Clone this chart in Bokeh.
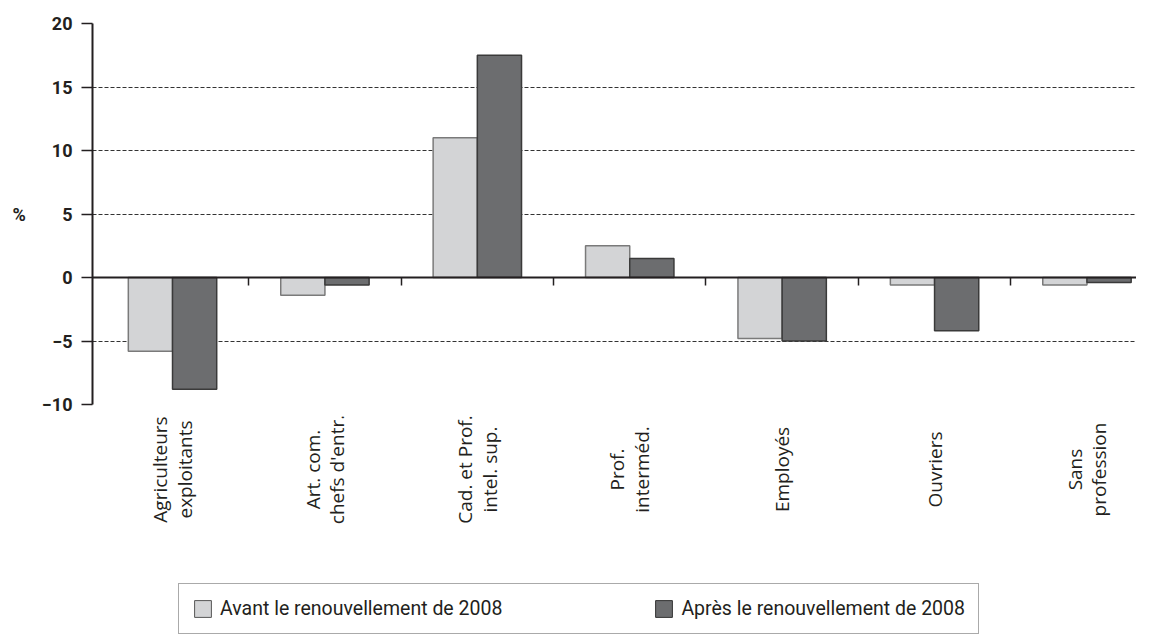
import math
from bokeh.plotting import figure
from bokeh.models import Range1d, FixedTicker, Legend, LegendItem, ColumnDataSource
from bokeh.layouts import column
from bokeh.core.properties import value
from bokeh.embed import file_html
from bokeh.resources import INLINE

categories = ["Agriculteurs\nexploitants", "Art. com.\nchefs d'entr.", "Cad. et Prof.\nintel. sup.",
              "Prof.\ninterméd.", "Employés", "Ouvriers", "Sans\nprofession"]
avant = [-5.8, -1.4, 11.0, 2.5, -4.8, -0.6, -0.6]
apres = [-8.8, -0.6, 17.5, 1.5, -5.0, -4.2, -0.4]
y_ticks = [-10, -5, 0, 5, 10, 15, 20]
series_names = ["Avant le renouvellement de 2008", "Après le renouvellement de 2008"]

LIGHT = "#d3d4d6"
DARK = "#6c6d6f"
INK = "#231f20"

centers = [i + 0.5 for i in range(len(categories))]
bw = 0.29
src = ColumnDataSource(dict(
    x_av=[c - bw / 2 for c in centers],
    x_ap=[c + bw / 2 for c in centers],
    avant=avant, apres=apres,
))

W = 1136
H1 = 416
LEFT = 92
p = figure(width=W, height=H1, output_backend="svg", toolbar_location=None,
           x_range=Range1d(-0.025, 6.825), y_range=Range1d(-10, 20),
           min_border_left=LEFT, min_border_right=0, min_border_top=23, min_border_bottom=12)
p.outline_line_color = None
p.background_fill_color = "white"

p.vbar(x="x_av", top="avant", bottom=0, width=bw, source=src,
       fill_color=LIGHT, line_color="#7a7a7a", line_width=1.5)
p.vbar(x="x_ap", top="apres", bottom=0, width=bw, source=src,
       fill_color=DARK, line_color="#3a3a3a", line_width=1.5)

# grid
p.xgrid.visible = False
p.ygrid.ticker = FixedTicker(ticks=[t for t in y_ticks if t != 0])
p.ygrid.grid_line_color = "#333333"
p.ygrid.grid_line_dash = "4 2"
p.ygrid.grid_line_width = 1

# y axis
p.yaxis.ticker = FixedTicker(ticks=y_ticks)
p.yaxis.minor_tick_line_color = None
p.yaxis.major_tick_out = 11
p.yaxis.major_tick_in = 0
p.yaxis.axis_line_width = 2
p.yaxis.axis_line_color = INK
p.yaxis.major_tick_line_color = INK
p.yaxis.major_tick_line_width = 1.5
p.yaxis.major_label_text_font = "Roboto"
p.yaxis.major_label_text_font_style = "bold"
p.yaxis.major_label_text_font_size = "18px"
p.yaxis.major_label_text_color = INK
p.yaxis.major_label_standoff = 9
p.yaxis.axis_label = "%"
p.yaxis.axis_label_orientation = "horizontal"
p.yaxis.axis_label_text_font = "Roboto"
p.yaxis.axis_label_text_font_style = "bold"
p.yaxis.axis_label_text_font_size = "18px"
p.yaxis.axis_label_text_color = INK
p.yaxis.axis_label_standoff = 13

# x axis at zero, ticks between categories
x_ticks = list(range(1, len(categories)))
p.xaxis.fixed_location = 0
p.xaxis.ticker = FixedTicker(ticks=x_ticks)
p.xaxis.minor_tick_line_color = None
p.xaxis.major_tick_out = 8
p.xaxis.major_tick_in = 0
p.xaxis.major_tick_line_width = 1.5
p.xaxis.major_tick_line_color = INK
p.xaxis.axis_line_width = 2
p.xaxis.axis_line_color = INK
p.xaxis.major_label_overrides = {t: "" for t in x_ticks}
p.xaxis.major_label_standoff = 0

# bottom figure: category labels + legend
H2 = 219
p2 = figure(width=W, height=H2, output_backend="svg", toolbar_location=None,
            x_range=p.x_range, y_range=Range1d(0, H2),
            min_border_left=LEFT, min_border_right=0, min_border_top=0, min_border_bottom=0)
p2.axis.visible = False
p2.grid.visible = False
p2.outline_line_color = None

lab_src = ColumnDataSource(dict(x=centers, y=[H2 - 53] * len(centers), t=categories))
p2.text(x="x", y="y", text="t", source=lab_src, angle=math.pi / 2,
        text_align="center", text_baseline="middle",
        text_font=value("Open Sans"), text_font_size="19px", text_color=INK,
        text_line_height=0.95)

nan = float("nan")
r_av = p2.vbar(x=[nan], top=[nan], width=0.1, fill_color=LIGHT, line_color="#555555", line_width=1)
r_ap = p2.vbar(x=[nan], top=[nan], width=0.1, fill_color=DARK, line_color="#333333", line_width=1)

legend = Legend(items=[LegendItem(label=series_names[0], renderers=[r_av]),
                       LegendItem(label=series_names[1], renderers=[r_ap])],
                orientation="horizontal", location=(86, 1),
                glyph_width=21, glyph_height=21, label_standoff=7,
                spacing=151, padding=13, margin=0,
                label_text_font="Roboto", label_text_font_size="19.5px", label_text_color=INK,
                border_line_color="#555555", border_line_width=1,
                background_fill_color="white", background_fill_alpha=1)
p2.add_layout(legend)

layout = column(p, p2, spacing=0)
open("out.html", "w").write(file_html(layout, INLINE))
